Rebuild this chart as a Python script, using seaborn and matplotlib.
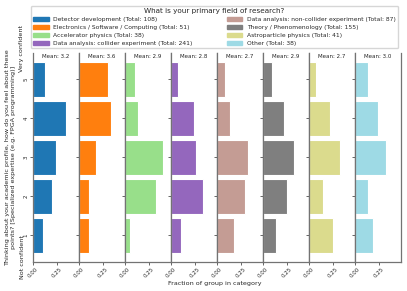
import matplotlib
matplotlib.use("Agg")
import matplotlib.pyplot as plt
import seaborn as sns
import pandas as pd
import numpy as np

# answers 1..5 (Not confident -> Very confident), counts per research field
ratings = [1, 2, 3, 4, 5]
fields = [
    "Detector development",
    "Electronics / Software / Computing",
    "Accelerator physics",
    "Data analysis: collider experiment",
    "Data analysis: non-collider experiment",
    "Theory / Phenomenology",
    "Astroparticle physics",
    "Other",
]
detector = [11, 21, 26, 37, 13]
electronics = [5, 5, 9, 17, 15]
accelerator = [2, 12, 15, 5, 4]
collider = [25, 80, 62, 56, 18]
noncollider = [15, 25, 28, 12, 7]
theory = [20, 38, 50, 33, 14]
astro = [10, 6, 13, 9, 3]
other = [7, 5, 12, 9, 5]
counts = [detector, electronics, accelerator, collider, noncollider, theory, astro, other]

colors = ["#1f77b4", "#ff7f0e", "#98df8a", "#9467bd",
          "#c49c94", "#7f7f7f", "#dbdb8d", "#9edae5"]

rows = []
for f, c in zip(fields, counts):
    tot = sum(c)
    for r, n in zip(ratings, c):
        rows.append({"field": f, "rating": r, "count": n, "fraction": n / tot})
df = pd.DataFrame(rows)

sns.set_style("ticks")
plt.rcParams["font.family"] = ["DejaVu Sans"]

fig, axes = plt.subplots(1, 8, figsize=(4.07, 2.91), dpi=100, sharey=True)
fig.subplots_adjust(left=33/407, right=401/407, bottom=1-262/291, top=1-53/291, wspace=0)

xmax = df["fraction"].max() * 1.2
handles = []
for ax, f, col in zip(axes, fields, colors):
    sub = df[df["field"] == f]
    sns.barplot(data=sub, x="fraction", y="rating", orient="h", native_scale=True,
                color=col, saturation=1, width=0.9, edgecolor="white", linewidth=0.8, ax=ax)
    tot = sub["count"].sum()
    mean = (sub["rating"] * sub["count"]).sum() / tot
    ax.text(0.5, 0.995, f"Mean: {mean:.1f}", transform=ax.transAxes,
            ha="center", va="top", fontsize=4.0)
    ax.set_xlim(0, xmax)
    ax.set_ylim(0.31, 5.67)
    ax.set_xticks([0, 0.25])
    ax.set_xticklabels(["0.00", "0.25"], rotation=45, fontsize=4)
    ax.set_xlabel("")
    ax.set_ylabel("")
    ax.spines["top"].set_visible(False)
    for s in ["left", "right", "bottom"]:
        ax.spines[s].set_color("0.45")
        ax.spines[s].set_linewidth(0.9)
    ax.tick_params(length=2, width=0.6, color="0.3", pad=1)
    handles.append(plt.Rectangle((0, 0), 1, 1, color=col, label=f"{f} (Total: {tot})"))

axes[0].set_yticks(ratings)
axes[0].set_yticklabels([str(r) for r in ratings], rotation=90, va="center", fontsize=4)
axes[0].set_ylabel("Thinking about your academic profile, how do you feel about these\n"
                   "points? [Specialized expertise (e.g. FPGA programming)]",
                   fontsize=4.6, labelpad=5.5)
fig.text(22/407, 1-257/291, "Not confident", rotation=90, ha="center", va="center", fontsize=4.6)
fig.text(22/407, 1-48/291, "Very confident", rotation=90, ha="center", va="center", fontsize=4.6)

fig.text(215/407, 1-283/291, "Fraction of group in category", ha="center", va="center", fontsize=4.6)

fig.legend(handles=handles, ncol=2, mode="expand", loc="upper left",
           bbox_to_anchor=(28/407, 1-3/291, 373/407, 0.0),
           title="What is your primary field of research?",
           fontsize=4.3, title_fontsize=5.2, handlelength=2.6, handleheight=0.75,
           borderpad=0.35, labelspacing=0.45, frameon=True, fancybox=True)

fig.savefig("out.png", dpi=100)
